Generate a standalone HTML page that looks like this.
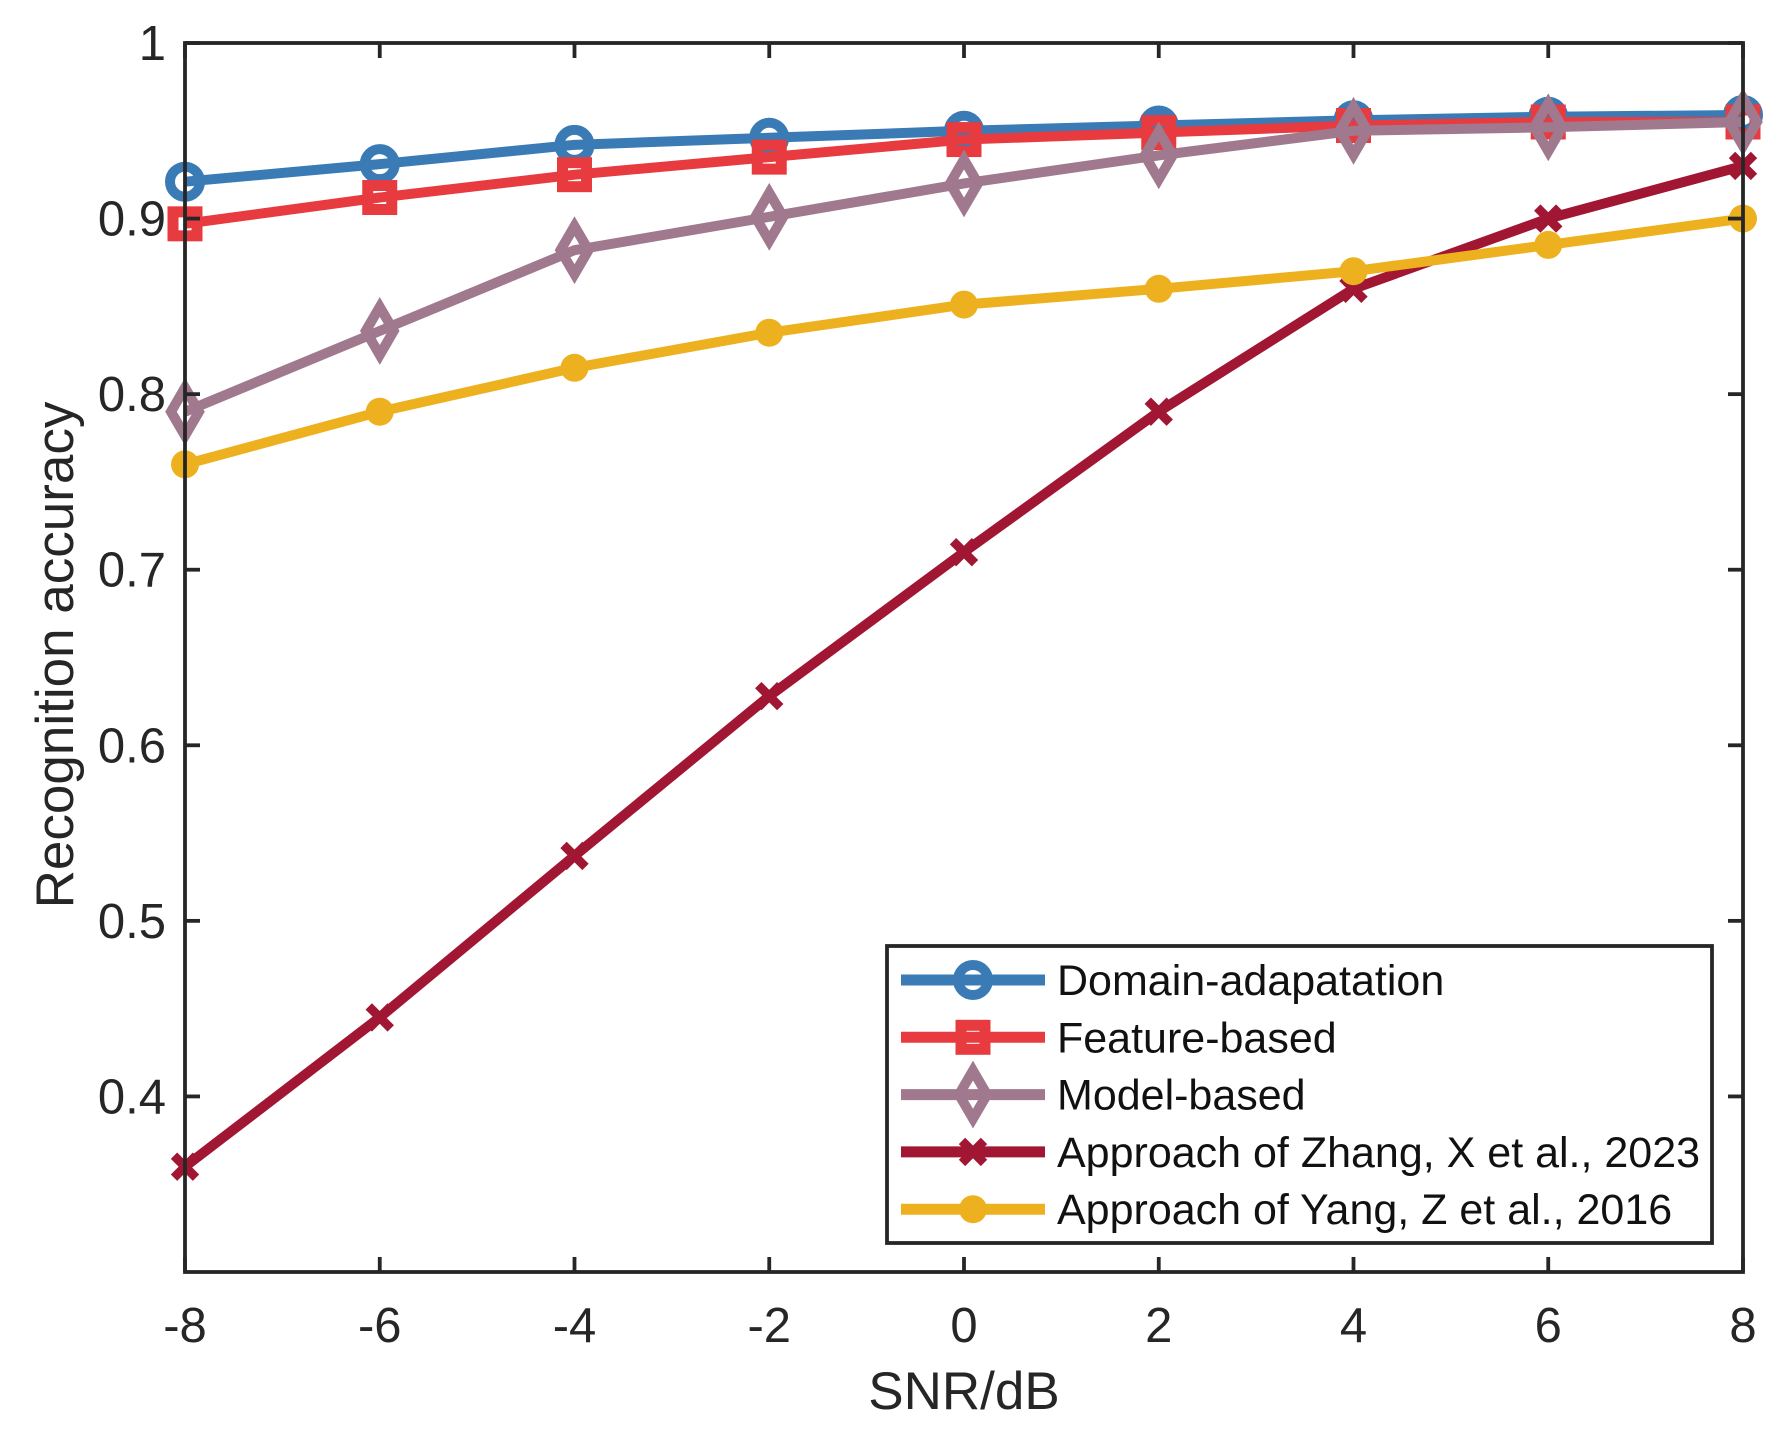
<!DOCTYPE html>
<html><head><meta charset="utf-8"><style>html,body{margin:0;padding:0;background:#fff}svg{display:block}</style></head>
<body>
<svg width="1781" height="1441" viewBox="0 0 1781 1441" xmlns="http://www.w3.org/2000/svg" font-family="Liberation Sans, Arial, sans-serif" fill="#222">
<rect width="1781" height="1441" fill="#fff"/>
<g id="plot"></g>
<g stroke="#262626" stroke-width="3.8" fill="none">
<rect x="185" y="43" width="1558" height="1229"/>
</g>
<g id="ticks" stroke="#262626" stroke-width="3.8"></g>
<g id="labels" font-size="49" fill="#262626"></g>
<text x="964" y="1409" font-size="53" text-anchor="middle" fill="#262626">SNR/dB</text>
<text transform="translate(73,655) rotate(-90)" font-size="53" text-anchor="middle" fill="#262626">Recognition accuracy</text>
<g id="legend">
<rect x="887" y="946" width="825" height="297" fill="#fff" stroke="#262626" stroke-width="3.8"/>
</g>
<script>
const NS="http://www.w3.org/2000/svg";
const X=v=>185+(v+8)/16*1558, Y=v=>1272-(v-0.3)/0.7*1229;
function el(p,t,a){const e=document.createElementNS(NS,t);for(const k in a)e.setAttribute(k,a[k]);p.appendChild(e);return e;}
const plot=document.getElementById('plot'),ticks=document.getElementById('ticks'),labels=document.getElementById('labels'),leg=document.getElementById('legend');
for(let v=-8;v<=8;v+=2){const x=X(v);el(ticks,'line',{x1:x,x2:x,y1:1272,y2:1257});el(ticks,'line',{x1:x,x2:x,y1:43,y2:58});
 const t=el(labels,'text',{x:x,y:1342,'text-anchor':'middle'});t.textContent=v;}
for(let i=4;i<=10;i++){const v=i/10,y=Y(v);el(ticks,'line',{x1:185,x2:200,y1:y,y2:y});el(ticks,'line',{x1:1743,x2:1728,y1:y,y2:y});
 const t=el(labels,'text',{x:166,y:y+17,'text-anchor':'end'});t.textContent=i==10?'1':v.toFixed(1);}
const S=[
{c:'#3a7bb5',m:'o',n:'Domain-adapatation',d:[0.921,0.931,0.942,0.946,0.950,0.953,0.956,0.958,0.959]},
{c:'#e83b3f',m:'s',n:'Feature-based',d:[0.897,0.912,0.925,0.935,0.945,0.949,0.953,0.955,0.955]},
{c:'#a0798e',m:'d',n:'Model-based',d:[0.790,0.836,0.882,0.901,0.920,0.936,0.950,0.952,0.955]},
{c:'#a11632',m:'x',n:'Approach of Zhang, X et al., 2023',d:[0.360,0.445,0.537,0.628,0.710,0.790,0.860,0.900,0.930]},
{c:'#edb120',m:'f',n:'Approach of Yang, Z et al., 2016',d:[0.760,0.790,0.815,0.835,0.851,0.860,0.870,0.885,0.900]}];
function mk(p,m,x,y,c){
 if(m=='o')el(p,'circle',{cx:x,cy:y,r:15,fill:'none',stroke:c,'stroke-width':10});
 else if(m=='s')el(p,'rect',{x:x-12,y:y-12,width:24,height:24,fill:'none',stroke:c,'stroke-width':11});
 else if(m=='d')el(p,'polygon',{points:`${x},${y-24} ${x+14},${y} ${x},${y+24} ${x-14},${y}`,fill:'none',stroke:c,'stroke-width':10});
 else if(m=='x'){el(p,'path',{d:`M${x-11},${y-11}L${x+11},${y+11}M${x+11},${y-11}L${x-11},${y+11}`,stroke:c,'stroke-width':9});}
 else el(p,'circle',{cx:x,cy:y,r:14,fill:c});
}
S.forEach(s=>{const pts=s.d.map((v,i)=>X(-8+2*i)+','+Y(v)).join(' ');
 el(plot,'polyline',{points:pts,fill:'none',stroke:s.c,'stroke-width':10,'stroke-linejoin':'round'});
 s.d.forEach((v,i)=>mk(plot,s.m,X(-8+2*i),Y(v),s.c));});
S.forEach((s,i)=>{const y=980+i*57.3;
 el(leg,'line',{x1:901,x2:1045,y1:y,y2:y,stroke:s.c,'stroke-width':11});mk(leg,s.m,973,y,s.c);
 const t=el(leg,'text',{x:1057,y:y+15,'font-size':43,fill:'#111'});t.textContent=s.n;});
</script>
</svg>
</body></html>
